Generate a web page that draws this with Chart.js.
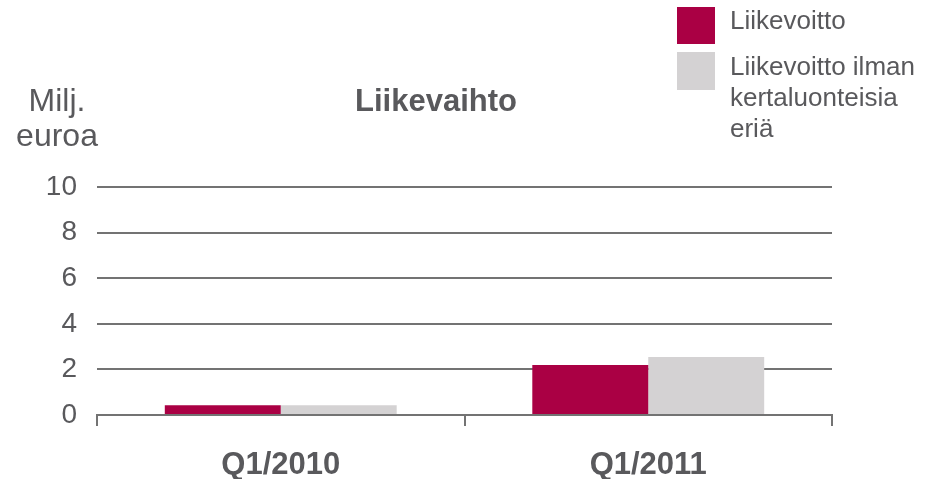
<!DOCTYPE html>
<html>
<head>
<meta charset="utf-8">
<script src="https://cdn.jsdelivr.net/npm/chart.js@4"></script>
<style>
  body{margin:0;background:#fff;}
  #wrap{width:934px;height:479px;position:relative;}
</style>
</head>
<body>
<div id="wrap"><canvas id="chart" width="934" height="479"></canvas></div>
<script>
const categories=['Q1/2010','Q1/2011'];
const liikevoitto=[0.43,2.19];
const ilmanKertaluonteisia=[0.43,2.54];
const yTicks=[0,2,4,6,8,10];
const seriesNames=['Liikevoitto',['Liikevoitto ilman','kertaluonteisia','eriä']];
const chartTitle='Liikevaihto';
const unitLabel=['Milj.','euroa'];

const textColor='#59595c';
const lineColor='#737373';
const red='#aa0044';
const grey='#d4d2d3';
const font='"Liberation Sans", Arial, sans-serif';

// title, unit and legend are drawn straight onto the canvas
const extras={
  id:'extras',
  afterDraw(chart){
    const ctx=chart.ctx;
    ctx.save();
    ctx.fillStyle=textColor;
    ctx.textBaseline='alphabetic';

    ctx.font='bold 31px '+font;
    ctx.textAlign='center';
    ctx.fillText(chartTitle,436,111);

    ctx.font='32px '+font;
    ctx.fillText(unitLabel[0],57,111);
    ctx.fillText(unitLabel[1],57,146);

    // legend
    ctx.fillStyle=red;
    ctx.fillRect(677,7,38,37);
    ctx.fillStyle=grey;
    ctx.fillRect(677,52,38,38);
    ctx.fillStyle=textColor;
    ctx.textAlign='left';
    ctx.font='26px '+font;
    ctx.fillText(seriesNames[0],730,29);
    seriesNames[1].forEach((t,i)=>ctx.fillText(t,730,75+i*31));
    ctx.restore();
  }
};

new Chart(document.getElementById('chart'),{
  type:'bar',
  data:{
    labels:categories,
    datasets:[
      {label:'Liikevoitto',data:liikevoitto,backgroundColor:red},
      {label:'Liikevoitto ilman kertaluonteisia eriä',data:ilmanKertaluonteisia,backgroundColor:grey}
    ]
  },
  options:{
    responsive:false,
    animation:false,
    devicePixelRatio:1,
    categoryPercentage:0.631,
    barPercentage:1,
    layout:{padding:{top:187,right:102,left:0,bottom:0}},
    plugins:{legend:{display:false},tooltip:{enabled:false},title:{display:false}},
    scales:{
      x:{
        grid:{display:true,drawOnChartArea:false,drawTicks:true,tickLength:11,color:lineColor,lineWidth:2},
        border:{display:true,color:lineColor,width:2},
        ticks:{color:textColor,padding:21,font:{family:font,size:31,weight:'bold'}},
        afterFit(s){s.height=64;}
      },
      y:{
        min:0,max:10,
        afterBuildTicks(s){s.ticks=yTicks.map(v=>({value:v}));},
        grid:{color:lineColor,lineWidth:2,drawTicks:false},
        border:{display:false},
        ticks:{color:textColor,padding:20,font:{family:font,size:28}},
        afterFit(s){s.width=97;}
      }
    }
  },
  plugins:[extras]
});
</script>
</body>
</html>
